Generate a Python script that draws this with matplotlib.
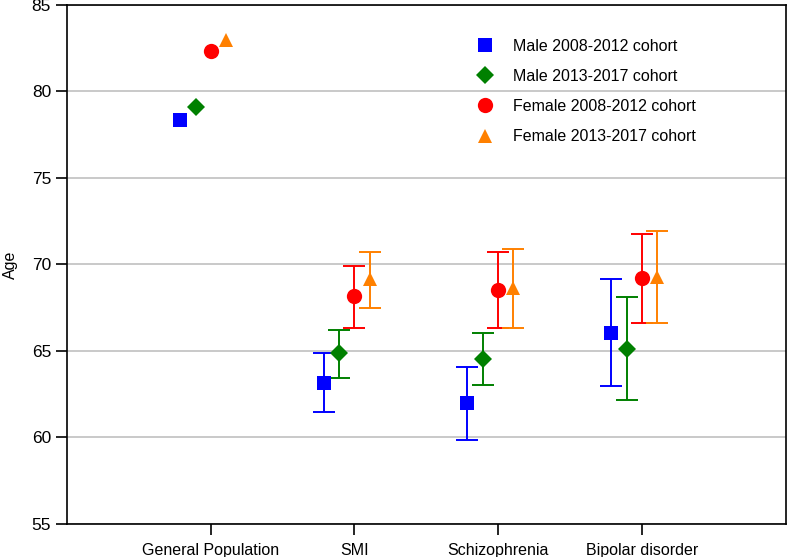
import matplotlib
matplotlib.use("Agg")
import matplotlib.pyplot as plt
import numpy as np

plt.rcParams['font.family'] = ['Liberation Sans', 'DejaVu Sans']

categories = ["General Population", "SMI", "Schizophrenia", "Bipolar disorder"]
series_names = ["Male 2008-2012 cohort", "Male 2013-2017 cohort",
                "Female 2008-2012 cohort", "Female 2013-2017 cohort"]

male_0812 = [78.35, 63.15, 62.0, 66.05]
male_0812_lo = [np.nan, 61.47, 59.86, 62.98]
male_0812_hi = [np.nan, 64.88, 64.08, 69.16]

male_1317 = [79.1, 64.88, 64.55, 65.12]
male_1317_lo = [np.nan, 63.44, 63.03, 62.17]
male_1317_hi = [np.nan, 66.21, 66.04, 68.12]

female_0812 = [82.36, 68.15, 68.55, 69.22]
female_0812_lo = [np.nan, 66.3, 66.3, 66.6]
female_0812_hi = [np.nan, 69.9, 70.7, 71.78]

female_1317 = [82.95, 69.15, 68.65, 69.3]
female_1317_lo = [np.nan, 67.5, 66.3, 66.6]
female_1317_hi = [np.nan, 70.7, 70.87, 71.95]

values = [male_0812, male_1317, female_0812, female_1317]
lows = [male_0812_lo, male_1317_lo, female_0812_lo, female_1317_lo]
highs = [male_0812_hi, male_1317_hi, female_0812_hi, female_1317_hi]

colors = ["#0000ff", "#008000", "#ff0000", "#ff8000"]
markers = ["s", "D", "o", "^"]
msizes = [9.5, 9, 11, 10.5]
offsets = [-0.215, -0.105, 0.0, 0.105]

fig = plt.figure(figsize=(7.87, 5.57), dpi=100)
ax = fig.add_axes([0.0851, 0.0595, 0.9133, 0.9315])

x = np.arange(1, len(categories) + 1)
for v, lo, hi, c, m, ms, off, name in zip(values, lows, highs, colors, markers, msizes, offsets, series_names):
    v = np.array(v); lo = np.array(lo); hi = np.array(hi)
    xs = x + off
    mask = ~np.isnan(lo)
    ax.errorbar(xs[mask], v[mask], yerr=[v[mask] - lo[mask], hi[mask] - v[mask]],
                fmt='none', ecolor=c, elinewidth=1.4, capsize=8, capthick=1.4, zorder=3)
    ax.plot(xs, v, linestyle='none', marker=m, color=c, markersize=ms,
            markeredgewidth=0, label=name, zorder=4)

ax.set_xlim(0, 5)
ax.set_ylim(55, 85)
ax.set_xticks(x)
ax.set_xticklabels(categories, fontsize=11.5)
ax.set_yticks(np.arange(55, 86, 5))
ax.tick_params(axis='y', labelsize=12.5, length=8, width=1.2, direction='out')
ax.tick_params(axis='x', length=8, width=1.2, direction='out', pad=6)
ax.set_ylabel("Age", fontsize=11.5, labelpad=10)
ax.yaxis.grid(True, color='#c0c0c0', linewidth=1.2)
ax.set_axisbelow(True)
for s in ax.spines.values():
    s.set_linewidth(1.2)
    s.set_color('black')

leg = ax.legend(loc='upper left', bbox_to_anchor=(0.55, 0.963), frameon=False,
                fontsize=11.5, labelspacing=0.95, handletextpad=1.3,
                handlelength=1.0)

fig.savefig("out.png", dpi=100)
